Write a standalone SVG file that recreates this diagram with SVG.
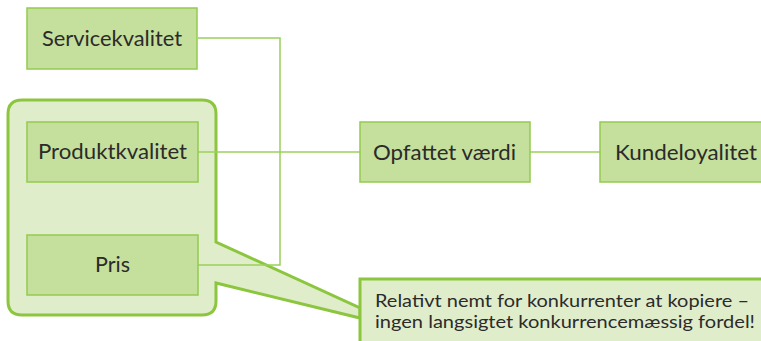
<svg xmlns="http://www.w3.org/2000/svg" width="761" height="341" viewBox="0 0 761 341">
  <style>
    .box { fill: #c5df9c; stroke: #92cb4e; stroke-width: 1.5; }
    .grp { fill: #e0edcb; stroke: #8cc63f; stroke-width: 3; stroke-linejoin: miter; }
    .wire { fill: none; stroke: #9bd05a; stroke-width: 1.5; }
    .lbl { font-family: Lato, "Open Sans", "Noto Sans", sans-serif; font-size: 22px; fill: #2b2b2b; text-anchor: middle; }
    .note { font-family: Lato, "Open Sans", "Noto Sans", sans-serif; font-size: 18px; fill: #2b2b2b; }
  </style>

  <!-- grouping frame with speech pointer to the note -->
  <g id="group-frame">
    <path class="grp" d="M22,100 H202 Q216,100 216,114 V242 L360,308 L360,318 L216,283 V301 Q216,315 202,315 H22 Q8,315 8,301 V114 Q8,100 22,100 Z"/>
  </g>

  <g id="connectors">
    <polyline class="wire" points="198,38 280,38 280,265 198,265"/>
    <line class="wire" x1="198" y1="152" x2="360" y2="152"/>
    <line class="wire" x1="530" y1="152" x2="600" y2="152"/>
  </g>

  <g id="servicekvalitet">
    <rect class="box" x="27" y="8" width="170" height="61"/>
    <text class="lbl" x="112" y="46" textLength="140" lengthAdjust="spacingAndGlyphs">Servicekvalitet</text>
  </g>

  <g id="produktkvalitet">
    <rect class="box" x="27" y="122" width="171" height="60"/>
    <text class="lbl" x="112.5" y="159" textLength="149" lengthAdjust="spacingAndGlyphs">Produktkvalitet</text>
  </g>

  <g id="pris">
    <rect class="box" x="27" y="235" width="171" height="60"/>
    <text class="lbl" x="112.5" y="272" textLength="35" lengthAdjust="spacingAndGlyphs">Pris</text>
  </g>

  <g id="opfattet-vaerdi">
    <rect class="box" x="360" y="122" width="170" height="60"/>
    <text class="lbl" x="444.5" y="160" textLength="143" lengthAdjust="spacingAndGlyphs">Opfattet værdi</text>
  </g>

  <g id="kundeloyalitet">
    <rect class="box" x="600" y="122" width="170" height="60"/>
    <text class="lbl" x="686" y="160" textLength="142" lengthAdjust="spacingAndGlyphs">Kundeloyalitet</text>
  </g>

  <g id="note">
    <rect x="360" y="279" width="410" height="70" fill="#e0edcb" stroke="#8cc63f" stroke-width="3"/>
    <text class="note" x="375" y="307" textLength="374" lengthAdjust="spacingAndGlyphs">Relativt nemt for konkurrenter at kopiere –</text>
    <text class="note" x="375" y="328" textLength="380" lengthAdjust="spacingAndGlyphs">ingen langsigtet konkurrencemæssig fordel!</text>
  </g>
</svg>
